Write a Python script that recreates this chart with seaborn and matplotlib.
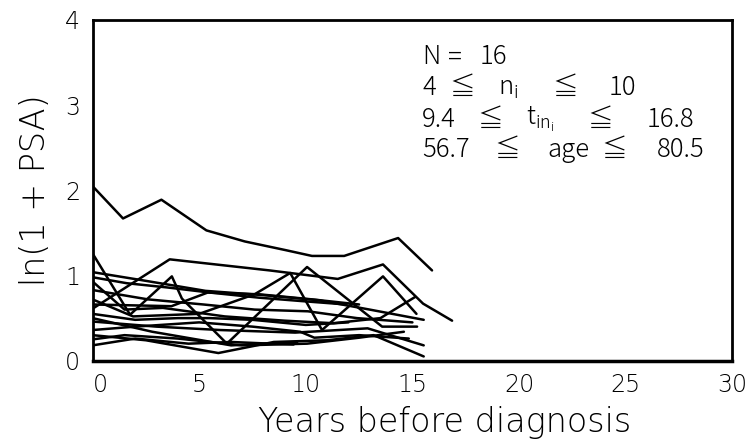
import numpy as np
import pandas as pd
import matplotlib
matplotlib.use("Agg")
import matplotlib.pyplot as plt
import matplotlib.transforms as mtransforms
import seaborn as sns

# Longitudinal ln(1 + PSA) trajectories, one list pair per subject
years_s01 = [0, 1.43, 3.23, 5.34, 7.14, 9.02, 10.29, 11.8, 14.33, 15.92]
psa_s01 = [2.05, 1.67, 1.89, 1.53, 1.40, 1.30, 1.23, 1.23, 1.44, 1.06]
years_s02 = [0, 3.62, 8.3, 11.5, 13.62, 15.5, 16.86]
psa_s02 = [0.61, 1.19, 1.06, 0.96, 1.13, 0.67, 0.47]
years_s03 = [0, 1.76, 3.72, 4.19, 6.3, 10.06, 13.58, 15.22]
psa_s03 = [1.26, 0.54, 0.99, 0.73, 0.20, 1.10, 0.40, 0.40]
years_s04 = [0, 1.9, 5.0, 7.6, 9.27, 10.76, 13.62, 15.19]
psa_s04 = [0.72, 0.52, 0.55, 0.78, 1.03, 0.36, 0.99, 0.55]
years_s05 = [0, 1.5, 3.3, 6.2, 9.0, 11.3, 13.5, 15.14]
psa_s05 = [0.93, 0.60, 0.62, 0.52, 0.47, 0.44, 0.50, 0.75]
years_s06 = [0, 2.2, 5.3, 8.0, 10.6, 13.0, 15.53]
psa_s06 = [1.04, 0.95, 0.82, 0.77, 0.71, 0.60, 0.48]
years_s07 = [0, 3.0, 6.0, 9.5, 12.9, 15.53]
psa_s07 = [0.46, 0.40, 0.36, 0.33, 0.38, 0.18]
years_s08 = [0, 2.5, 5.9, 8.5, 11.0, 13.18, 15.53]
psa_s08 = [0.30, 0.24, 0.09, 0.22, 0.24, 0.30, 0.05]
years_s09 = [0, 1.5, 4.0, 7.0, 10.06, 12.5, 14.6]
psa_s09 = [0.25, 0.30, 0.26, 0.18, 0.20, 0.27, 0.34]
years_s10 = [0, 2.0, 5.0, 7.5, 9.74, 10.4, 12.5, 14.83]
psa_s10 = [0.36, 0.40, 0.45, 0.40, 0.34, 0.27, 0.30, 0.26]
years_s11 = [0, 2.0, 4.5, 6.5, 8.35, 9.43]
psa_s11 = [0.18, 0.26, 0.20, 0.22, 0.20, 0.19]
years_s12 = [0, 1.6, 3.5, 5.5, 7.8, 9.8, 11.9]
psa_s12 = [0.98, 0.91, 0.86, 0.80, 0.74, 0.70, 0.66]
years_s13 = [0, 2.8, 6.5, 9.6]
psa_s13 = [0.50, 0.34, 0.18, 0.22]
years_s14 = [0, 2.0, 4.0, 5.5, 7.5, 10.0, 12.0]
psa_s14 = [0.55, 0.48, 0.50, 0.50, 0.48, 0.42, 0.45]
years_s15 = [0, 3.7, 5.4, 7.8, 10.3, 12.5]
psa_s15 = [0.66, 0.64, 0.80, 0.78, 0.72, 0.66]
years_s16 = [0, 2.6, 5.2, 7.6, 10.1, 12.4, 15.0]
psa_s16 = [0.83, 0.72, 0.66, 0.60, 0.58, 0.50, 0.45]

subjects = [
    (years_s01, psa_s01), (years_s02, psa_s02), (years_s03, psa_s03),
    (years_s04, psa_s04), (years_s05, psa_s05), (years_s06, psa_s06),
    (years_s07, psa_s07), (years_s08, psa_s08), (years_s09, psa_s09),
    (years_s10, psa_s10), (years_s11, psa_s11), (years_s12, psa_s12),
    (years_s13, psa_s13), (years_s14, psa_s14), (years_s15, psa_s15),
    (years_s16, psa_s16),
]

x_ticks = [0, 5, 10, 15, 20, 25, 30]
y_ticks = [0, 1, 2, 3, 4]

frames = []
for i, (yrs, vals) in enumerate(subjects, start=1):
    frames.append(pd.DataFrame({"years": yrs, "lpsa": vals, "subject": i}))
df = pd.concat(frames, ignore_index=True)

sns.set_style("white")
plt.rcParams["font.family"] = ["DejaVu Sans", "Noto Sans CJK JP"]
plt.rcParams["mathtext.default"] = "regular"
plt.rcParams["text.color"] = "black"

fig = plt.figure(figsize=(7.51, 4.44), dpi=100)
ax = fig.add_axes([0.1232, 0.1876, 0.8519, 0.7674])

sns.lineplot(data=df, x="years", y="lpsa", units="subject", estimator=None,
             color="black", linewidth=1.8, sort=False, ax=ax, legend=False)

ax.set_xlim(0, 30)
ax.set_ylim(0, 4)
ax.set_xticks(x_ticks)
ax.set_yticks(y_ticks)
ax.set_xticklabels([str(t) for t in x_ticks], fontsize=17, fontweight="light")
ax.set_yticklabels([str(t) for t in y_ticks], fontsize=17, fontweight="light")
ax.tick_params(direction="in", length=6, width=1, colors="black",
               labelcolor="black", pad=9)
for side in ["left", "right", "top", "bottom"]:
    ax.spines[side].set_visible(True)
    ax.spines[side].set_color("black")
    ax.spines[side].set_linewidth(2.0)
ax.spines["bottom"].set_linewidth(2.5)

# nudge the first x label off the corner
first = ax.get_xticklabels()[0]
first.set_transform(first.get_transform()
                    + mtransforms.ScaledTranslation(8 / 100, 0, fig.dpi_scale_trans))

ax.set_xlabel("Years before diagnosis", fontsize=24, fontweight="light",
              color="black")
ax.xaxis.set_label_coords(0.55, -0.132)
ax.set_ylabel("ln(1 + PSA)", fontsize=24, fontweight="light", color="black")
ax.yaxis.set_label_coords(-0.064, 0.5)

# Summary block: first token of each row left-aligned, the rest centred
# at axes fractions; a CJK-capable family lets ≦ render inside mathtext
info_left = 0.515
info_rows = [
    (0.891, "N", [("=", 0.567), ("16", 0.626)]),
    (0.802, "4", [("≦", 0.578), ("$n_i$", 0.650), ("≦", 0.739), ("10", 0.828)]),
    (0.708, "9.4", [("≦", 0.622), ("$t_{in_i}$", 0.700), ("≦", 0.794), ("16.8", 0.903)]),
    (0.620, "56.7", [("≦", 0.648), ("age", 0.744), ("≦", 0.816), ("80.5", 0.920)]),
]
text_kw = dict(transform=ax.transAxes, fontsize=18.5, family="Noto Sans CJK JP",
               fontweight="light", va="center", color="black")
for yy, lead, tokens in info_rows:
    ax.text(info_left, yy, lead, ha="left", **text_kw)
    for s, xx in tokens:
        ax.text(xx, yy, s, ha="center", **text_kw)

fig.savefig("out.png", dpi=100)
